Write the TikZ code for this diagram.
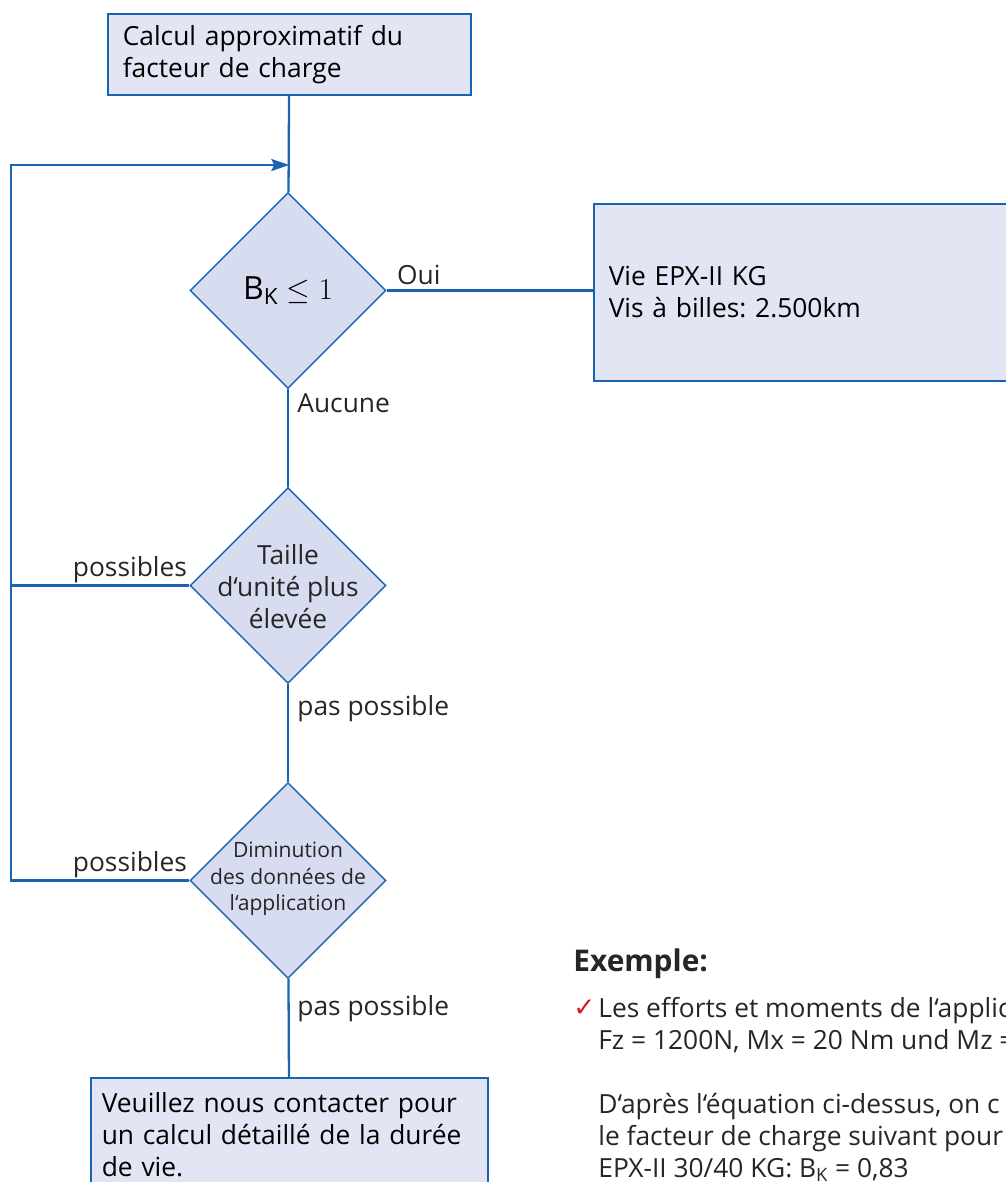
\documentclass[tikz,border=0pt]{standalone}
\usepackage{fontspec}
\setmainfont{Open Sans}
\newfontfamily\symfont{DejaVu Sans}
\usetikzlibrary{shapes.geometric,arrows.meta,positioning}
\frenchspacing

\definecolor{flowblue}{RGB}{24,100,176}
\definecolor{boxfill}{RGB}{225,229,244}
\definecolor{diafill}{RGB}{216,220,240}
\definecolor{checkred}{RGB}{215,25,35}

\newcommand{\mainsize}{\fontsize{15}{18.2}\selectfont}
\newcommand{\smallsize}{\fontsize{12}{15.1}\selectfont}

\tikzset{
  box/.style={draw=flowblue, line width=0.9pt, fill=boxfill, anchor=north west,
    align=left, inner xsep=0.3cm, font=\mainsize},
  decision/.style={diamond, draw=flowblue, line width=0.8pt, fill=diafill,
    minimum width=3.92cm, minimum height=3.92cm, inner sep=0pt},
  flow/.style={draw=flowblue, line width=1.3pt},
  lbl/.style={font=\mainsize, inner sep=0pt, text=black!85},
}

\begin{document}
\begin{tikzpicture}[x=0.02cm, y=-0.02cm]
  \useasboundingbox (0,0) rectangle (1006,1182);
  \clip (0,0) rectangle (1006,1182);
  % Boxes
  \node [box, text width=6.66cm, minimum height=1.62cm] (start) at (107,13)
    {Calcul approximatif du\\facteur de charge};
  \node [box, text width=8.4cm, minimum height=3.54cm] (life) at (593,203)
    {Vie EPX-II KG\\Vis à billes: 2.500km};
  \node [box, text width=7.5cm, inner xsep=0.22cm, inner ysep=0.3cm] (contact) at (90,1077)
    {Veuillez nous contacter pour\\un calcul détaillé de la durée\\de vie.};
  % Decisions
  \node [decision, font=\fontsize{18.2}{22}\selectfont] (bk) at (288,290.5)
    {B\textsubscript{K} $\leq 1$};
  \node [decision] (size) at (288,585.5) {};
  \node [lbl, align=center] (size-text) at (288,587) {Taille\\d‘unité plus\\élevée};
  \node [decision] (reduce) at (288,880.5) {};
  \node [lbl, align=center, font=\smallsize] (reduce-text) at (288,879)
    {Diminution\\des données de\\l‘application};
  % Loop back
  \coordinate (loop-top) at (11,165);
  \draw [flow, -{Stealth[length=0.36cm, width=0.24cm, inset=0.06cm]}]
    (reduce.west) -| (loop-top) -- (loop-top -| start.south);
  \draw [flow] (size.west) -- (size.west -| loop-top);
  % Main line
  \draw [flow] (start) -- (bk);
  \draw [flow] (bk) -- (size);
  \draw [flow] (size) -- (reduce);
  \draw [flow] (reduce) -- (contact);
  \draw [flow] (bk.east) -- (bk.east -| life.west);
  % Labels
  \node [lbl, anchor=base west] (yes) at ([xshift=0.2cm, yshift=0.12cm]bk.east) {Oui};
  \node [lbl, anchor=west] (none) at ([xshift=0.18cm, yshift=-0.28cm]bk.south) {Aucune};
  \node [lbl, anchor=base east] (size-yes) at ([xshift=-0.04cm, yshift=0.18cm]size.west) {possibles};
  \node [lbl, anchor=west] (size-no) at ([xshift=0.18cm, yshift=-0.48cm]size.south) {pas possible};
  \node [lbl, anchor=base east] (reduce-yes) at ([xshift=-0.04cm, yshift=0.18cm]reduce.west) {possibles};
  \node [lbl, anchor=west] (reduce-no) at ([xshift=0.18cm, yshift=-0.58cm]reduce.south) {pas possible};
  % Example
  \node [lbl, anchor=west, font=\fontsize{17}{20}\selectfont\bfseries] (example) at (573,964) {Exemple:};
  \node [lbl, anchor=base west, text=checkred, font=\symfont\fontsize{15}{18}\selectfont] (check) at (573,1016) {✓};
  \node [lbl, anchor=north west, align=left] (example-text) at (598,997)
    {Les efforts et moments de l‘applic\\
     Fz = 1200N, Mx = 20 Nm und Mz =\\[18.2pt]
     D‘après l‘équation ci-dessus, on c\\
     le facteur de charge suivant pour\\
     EPX-II 30/40 KG: B\textsubscript{K} = 0,83};
\end{tikzpicture}
\end{document}
